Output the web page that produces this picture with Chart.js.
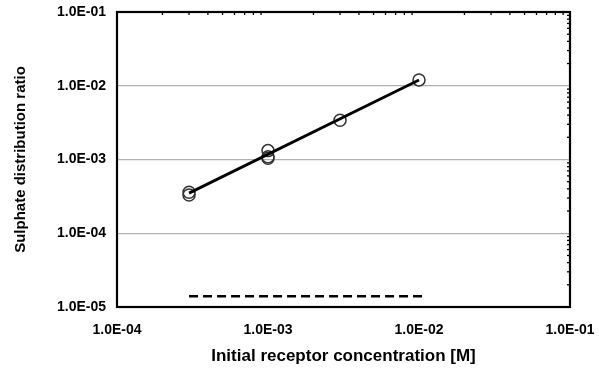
<!DOCTYPE html>
<html><head><meta charset="utf-8">
<script src="https://cdn.jsdelivr.net/npm/chart.js@4/dist/chart.umd.min.js"></script>
<style>html,body{margin:0;padding:0;background:#fff}#wrap{width:599px;height:373px}</style>
</head><body><div id="wrap"><canvas id="c"></canvas></div>
<script>
// Measured points
const xData = [3e-4, 3e-4, 1e-3, 1e-3, 1e-3, 3e-3, 1e-2];
const yData = [3.6e-4, 3.3e-4, 1.32e-3, 1.09e-3, 1.04e-3, 3.4e-3, 1.2e-2];
// Fitted line
const fitX = [3e-4, 1e-2];
const fitY = [3.5e-4, 1.2e-2];
// Dashed reference line
const dashX = [3e-4, 1.05e-2];
const dashY = [1.4e-5, 1.4e-5];
// Axis decades
const xTicks = [1e-4, 1e-3, 1e-2, 1e-1];
const yTicks = [1e-5, 1e-4, 1e-3, 1e-2, 1e-1];
const xTitle = 'Initial receptor concentration [M]';
const yTitle = 'Sulphate distribution ratio';

function fmt(v){
  const e = Math.round(Math.log10(v));
  const m = v / Math.pow(10, e);
  const a = Math.abs(e);
  return m.toFixed(1) + 'E' + (e<0?'-':'') + (a<10?'0':'') + a;
}
const pts = (xs, ys) => xs.map((x,i)=>({x:x, y:ys[i]}));

const frame = {
  id:'frame',
  afterDatasetsDraw(chart){
    const {ctx, chartArea:a, scales} = chart;
    ctx.save();
    ctx.strokeStyle = '#000';
    ctx.lineWidth = 1.3;
    for (let d=-4; d<-1; d++){
      for (let k=2;k<=9;k++){
        const px = scales.x.getPixelForValue(k*Math.pow(10,d));
        ctx.beginPath(); ctx.moveTo(px, a.top); ctx.lineTo(px, a.top+3); ctx.stroke();
      }
    }
    for (let d=-5; d<-1; d++){
      for (let k=2;k<=9;k++){
        const py = scales.y.getPixelForValue(k*Math.pow(10,d));
        ctx.beginPath(); ctx.moveTo(a.right, py); ctx.lineTo(a.right-3, py); ctx.stroke();
      }
    }
    ctx.lineWidth = 2.2;
    ctx.strokeRect(a.left, a.top, a.right-a.left, a.bottom-a.top);
    ctx.restore();
  }
};

new Chart(document.getElementById('c'), {
  type:'scatter',
  data:{datasets:[
    {data:pts(xData,yData), showLine:false, pointRadius:6, pointHoverRadius:6,
     pointBorderColor:'#333', pointBackgroundColor:'rgba(0,0,0,0)', pointBorderWidth:1.5, order:2},
    {data:pts(fitX,fitY), showLine:true, pointRadius:0, borderColor:'#000', borderWidth:2.8, order:1},
    {data:pts(dashX,dashY), showLine:true, pointRadius:0, borderColor:'#000', borderWidth:2.6, borderDash:[9,5], order:1}
  ]},
  options:{
    responsive:true, maintainAspectRatio:false, animation:false,
    layout:{padding:{left:8, right:29, top:12, bottom:2}},
    plugins:{legend:{display:false}, tooltip:{enabled:false}},
    scales:{
      x:{type:'logarithmic', min:1e-4, max:1e-1,
        afterBuildTicks(s){ s.ticks = xTicks.map(v=>({value:v})); },
        afterFit(s){ s.height = 64; s.paddingLeft = 0; s.paddingRight = 0; },
        ticks:{callback:v=>fmt(v), color:'#000', font:{family:'Liberation Sans', size:14, weight:'bold'}, padding:15, maxRotation:0, autoSkip:false},
        grid:{display:false, drawTicks:false},
        border:{display:false},
        title:{display:true, text:xTitle, color:'#000', font:{family:'Liberation Sans', size:17, weight:'bold'}, padding:{top:5}}
      },
      y:{type:'logarithmic', min:1e-5, max:1e-1,
        afterBuildTicks(s){ s.ticks = yTicks.map(v=>({value:v})); },
        afterFit(s){ s.width = 109; s.paddingTop = 0; s.paddingBottom = 0; },
        ticks:{callback:v=>fmt(v), color:'#000', font:{family:'Liberation Sans', size:14, weight:'bold'}, padding:11, autoSkip:false},
        grid:{color:'#b0b0b0', lineWidth:1.2, drawTicks:false},
        border:{display:false},
        title:{display:true, text:yTitle, color:'#000', font:{family:'Liberation Sans', size:15, weight:'bold'}, padding:{bottom:6}}
      }
    }
  },
  plugins:[frame]
});
</script></body></html>
